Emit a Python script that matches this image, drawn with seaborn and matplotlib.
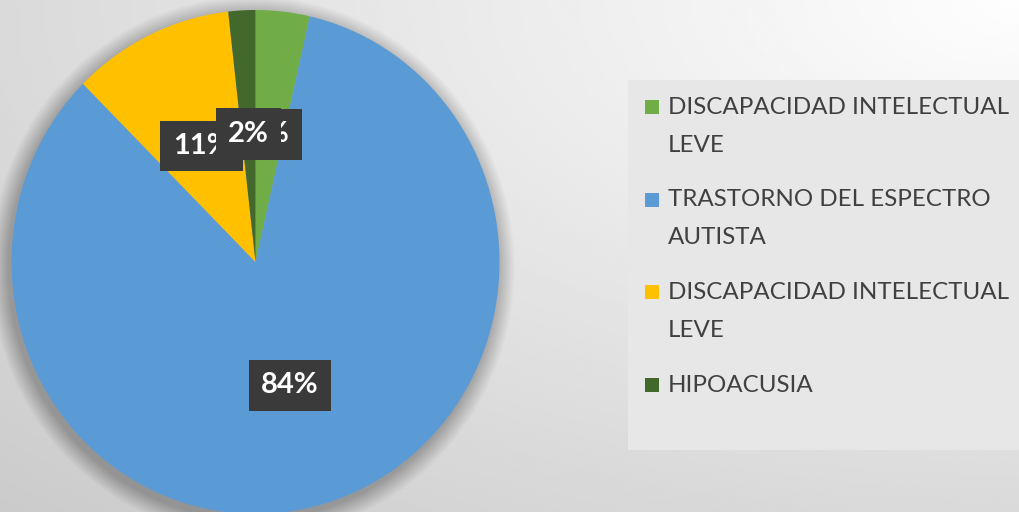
import numpy as np
import matplotlib
matplotlib.use("Agg")
import matplotlib.pyplot as plt
import seaborn as sns
from matplotlib.patches import Ellipse, Rectangle

# ---- data ----
categories = ["DISCAPACIDAD INTELECTUAL\nLEVE",
              "TRASTORNO DEL ESPECTRO\nAUTISTA",
              "DISCAPACIDAD INTELECTUAL\nLEVE",
              "HIPOACUSIA"]
values = [2, 47, 6, 1]
colors = ["#70AD47", "#5B9BD5", "#FFC000", "#43682B"]

sns.set_theme(style="white")
plt.rcParams['font.family'] = ['Lato', 'DejaVu Sans']

W, H = 1019, 512
fig = plt.figure(figsize=(W / 100, H / 100), dpi=100)

# background gradient
bg = fig.add_axes([0, 0, 1, 1], zorder=-10)
xx, yy = np.meshgrid(np.linspace(0, 1, 300), np.linspace(0, 1, 200))
d = np.sqrt((1 - xx) ** 2 + (1 - yy) ** 2) / np.sqrt(2)
val = 0.995 - 0.20 * d
bg.imshow(val, cmap='gray', vmin=0, vmax=1, extent=[0, 1, 0, 1],
          origin='lower', aspect='auto', interpolation='bilinear')
bg.axis('off')

# legend background box
fig.patches.append(Rectangle((628 / W, 1 - 450 / H), 1 - 628 / W, 370 / H,
                             transform=fig.transFigure, fc='#e7e7e7', ec='none', zorder=-5))

# pie axes
cx, cy, rx, ry = 255.5, 262, 244, 252
ax = fig.add_axes([(cx - rx) / W, 1 - (cy + ry) / H, 2 * rx / W, 2 * ry / H])

# soft shadow
for k in range(30):
    r = 1.0 + 0.0025 * (k + 1)
    ax.add_patch(Ellipse((-0.012, -0.02), 2 * r, 2 * r, fc='black', ec='none',
                         alpha=0.009, zorder=0, clip_on=False))

wedges, texts, autotexts = ax.pie(values, colors=colors, startangle=90, counterclock=False,
                                  autopct='%1.0f%%', pctdistance=0.51,
                                  wedgeprops=dict(linewidth=0, zorder=2),
                                  textprops=dict(color='white', fontweight='bold', fontsize=21))
for t in autotexts:
    t.set_bbox(dict(boxstyle='square,pad=0.42', fc='#3a3a3a', ec='none'))
    t.set_zorder(5)
ax.set_aspect('auto')
ax.set_xlim(-1, 1)
ax.set_ylim(-1, 1)
ax.axis('off')

# legend (manual, Excel-like: marker aligned with first line)
renderer = fig.canvas.get_renderer()
probe = fig.text(0, 0, "DISCAPACIDAD INTELECTUAL", fontsize=20)
wpx = probe.get_window_extent(renderer).width
probe.remove()
fs = 20 * 340 / wpx

for i, (lab, col) in enumerate(zip(categories, colors)):
    base = 114 + 92.5 * i
    fig.patches.append(Rectangle((645 / W, 1 - base / H), 14 / W, 14 / H,
                                 transform=fig.transFigure, fc=col, ec='none'))
    for j, line in enumerate(lab.split("\n")):
        fig.text(668 / W, 1 - (base + 38 * j) / H, line, fontsize=fs,
                 color='#404040', va='baseline', ha='left')

fig.savefig("out.png", dpi=100)
